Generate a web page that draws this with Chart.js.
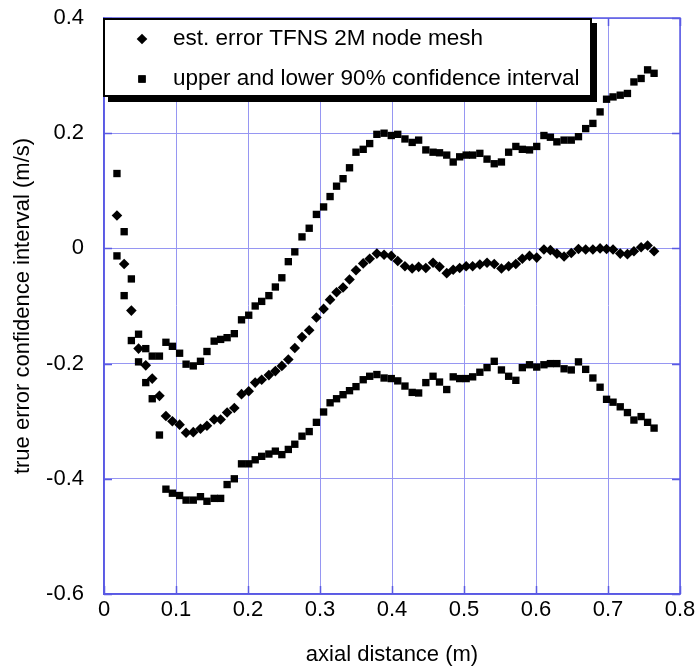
<!DOCTYPE html>
<html>
<head>
<meta charset="utf-8">
<script src="https://cdn.jsdelivr.net/npm/chart.js@4/dist/chart.umd.min.js"></script>
<style>
  html, body { margin: 0; padding: 0; background: #ffffff; }
  #wrap { width: 697px; height: 666px; }
</style>
</head>
<body>
<div id="wrap"><canvas id="c" width="697" height="666"></canvas></div>
<script>
// Axial stations (m)
const axialDistance = [
  0.018, 0.028, 0.038, 0.048, 0.058, 0.067, 0.077, 0.086, 0.095, 0.105,
  0.114, 0.124, 0.134, 0.143, 0.153, 0.162, 0.171, 0.181, 0.191, 0.201,
  0.210, 0.219, 0.229, 0.238, 0.247, 0.256, 0.265, 0.275, 0.285, 0.295,
  0.305, 0.314, 0.323, 0.332, 0.341, 0.350, 0.360, 0.369, 0.379, 0.389,
  0.399, 0.408, 0.418, 0.428, 0.437, 0.447, 0.457, 0.466, 0.476, 0.485,
  0.494, 0.503, 0.512, 0.522, 0.532, 0.542, 0.552, 0.562, 0.572, 0.581,
  0.591, 0.601, 0.611, 0.620, 0.629, 0.639, 0.649, 0.659, 0.669, 0.679,
  0.689, 0.698, 0.707, 0.717, 0.727, 0.736, 0.746, 0.755, 0.764
];

// Estimated true error (m/s)
const estError = [
  0.057, -0.027, -0.108, -0.174, -0.203, -0.226, -0.256, -0.291, -0.300, -0.306,
  -0.320, -0.319, -0.313, -0.308, -0.297, -0.297, -0.285, -0.277, -0.253, -0.248,
  -0.233, -0.228, -0.220, -0.213, -0.204, -0.193, -0.173, -0.154, -0.142, -0.120,
  -0.105, -0.089, -0.076, -0.068, -0.054, -0.038, -0.026, -0.018, -0.009, -0.011,
  -0.013, -0.022, -0.031, -0.035, -0.032, -0.034, -0.025, -0.032, -0.043, -0.037,
  -0.034, -0.031, -0.031, -0.028, -0.025, -0.027, -0.035, -0.031, -0.027, -0.018,
  -0.013, -0.016, -0.002, -0.003, -0.009, -0.014, -0.008, -0.001, -0.002, -0.002,
  0.000, -0.001, -0.002, -0.009, -0.010, -0.005, 0.002, 0.005, -0.005
];

// Upper 90% confidence bound (m/s)
const upperBound = [
  0.130, 0.029, -0.053, -0.149, -0.174, -0.187, -0.187, -0.163, -0.170, -0.182,
  -0.201, -0.204, -0.196, -0.179, -0.161, -0.158, -0.155, -0.148, -0.124, -0.116,
  -0.100, -0.092, -0.082, -0.067, -0.051, -0.023, -0.006, 0.020, 0.035, 0.059,
  0.072, 0.090, 0.108, 0.121, 0.140, 0.167, 0.172, 0.182, 0.198, 0.200,
  0.196, 0.198, 0.190, 0.184, 0.188, 0.171, 0.167, 0.166, 0.162, 0.150,
  0.159, 0.162, 0.162, 0.165, 0.155, 0.147, 0.150, 0.167, 0.177, 0.172,
  0.171, 0.177, 0.196, 0.193, 0.185, 0.188, 0.188, 0.194, 0.208, 0.217,
  0.237, 0.259, 0.263, 0.266, 0.269, 0.289, 0.295, 0.310, 0.304
];

// Lower 90% confidence bound (m/s)
const lowerBound = [
  -0.013, -0.082, -0.160, -0.197, -0.233, -0.261, -0.324, -0.418, -0.425, -0.429,
  -0.437, -0.437, -0.431, -0.439, -0.434, -0.434, -0.410, -0.400, -0.374, -0.374,
  -0.367, -0.361, -0.357, -0.352, -0.358, -0.349, -0.340, -0.326, -0.318, -0.302,
  -0.284, -0.268, -0.261, -0.254, -0.247, -0.240, -0.228, -0.222, -0.219, -0.225,
  -0.226, -0.230, -0.239, -0.250, -0.251, -0.233, -0.222, -0.232, -0.245, -0.223,
  -0.226, -0.226, -0.223, -0.215, -0.207, -0.196, -0.211, -0.222, -0.229, -0.207,
  -0.202, -0.206, -0.202, -0.200, -0.200, -0.209, -0.211, -0.197, -0.210, -0.225,
  -0.241, -0.262, -0.267, -0.275, -0.285, -0.298, -0.292, -0.302, -0.312
];

const xTicks = [0, 0.1, 0.2, 0.3, 0.4, 0.5, 0.6, 0.7, 0.8];
const yTicks = [-0.6, -0.4, -0.2, 0, 0.2, 0.4];

const seriesLabels = ['est. error TFNS 2M node mesh', 'upper and lower 90% confidence interval'];

const FONT = '"Liberation Sans", Arial, Helvetica, sans-serif';
const GRID = '#9696f2';
const FRAME = '#5a5ae4';

const toPoints = (xs, ys) => xs.map((x, i) => ({ x: x, y: ys[i] }));

const fmt = v => (Math.abs(v) < 1e-9 ? '0' : v.toFixed(1));

// Frame round the plot plus short inward tick marks on all four sides
const framePlugin = {
  id: 'frame',
  afterDatasetsDraw(chart) {
    const { ctx, chartArea: a, scales } = chart;
    ctx.save();
    ctx.strokeStyle = FRAME;
    ctx.lineWidth = 1.5;
    ctx.strokeRect(a.left, a.top, a.right - a.left, a.bottom - a.top);
    ctx.beginPath();
    const tl = 8;
    xTicks.forEach(v => {
      const px = Math.round(scales.x.getPixelForValue(v)) + 0.5;
      ctx.moveTo(px, a.bottom); ctx.lineTo(px, a.bottom - tl);
      ctx.moveTo(px, a.top); ctx.lineTo(px, a.top + tl);
    });
    yTicks.forEach(v => {
      const py = Math.round(scales.y.getPixelForValue(v)) + 0.5;
      ctx.moveTo(a.left, py); ctx.lineTo(a.left + tl, py);
      ctx.moveTo(a.right, py); ctx.lineTo(a.right - tl, py);
    });
    ctx.stroke();
    ctx.restore();
  }
};

// Boxed legend with a drop shadow, sitting over the top-left of the plot
const boxLegendPlugin = {
  id: 'boxLegend',
  afterDraw(chart) {
    const { ctx, chartArea: a } = chart;
    const x0 = a.left - 1, y0 = a.top, w = 489, h = 79;
    ctx.save();
    ctx.fillStyle = '#000';
    ctx.fillRect(x0 + 5, y0 + 5, w, h);
    ctx.fillStyle = '#fff';
    ctx.fillRect(x0, y0, w, h);
    ctx.strokeStyle = '#000';
    ctx.lineWidth = 2;
    ctx.strokeRect(x0 + 1, y0 + 1, w - 2, h - 2);
    ctx.font = '22.5px ' + FONT;
    ctx.textBaseline = 'middle';
    ctx.textAlign = 'left';
    chart.data.datasets.forEach((ds, i) => {
      const cy = y0 + 21 + i * 40;
      Chart.helpers.drawPoint(ctx, {
        pointStyle: ds.pointStyle,
        radius: ds.pointRadius,
        rotation: 0,
        borderWidth: 0
      }, x0 + 39, cy);
      ctx.fillStyle = '#000';
      ctx.fill();
      ctx.fillText(ds.label, x0 + 70, cy);
    });
    ctx.restore();
  }
};

new Chart(document.getElementById('c'), {
  type: 'scatter',
  data: {
    datasets: [
      {
        label: seriesLabels[0],
        data: toPoints(axialDistance, estError),
        pointStyle: 'rectRot',
        pointRadius: 5.3,
        backgroundColor: '#000',
        borderWidth: 0
      },
      {
        label: seriesLabels[1],
        data: toPoints(axialDistance, upperBound).concat(toPoints(axialDistance, lowerBound)),
        pointStyle: 'rect',
        pointRadius: 5.2,
        backgroundColor: '#000',
        borderWidth: 0
      }
    ]
  },
  options: {
    responsive: false,
    animation: false,
    devicePixelRatio: 1,
    layout: { padding: { top: 18, right: 17, left: 0, bottom: 0 } },
    plugins: {
      legend: { display: false },
      tooltip: { enabled: false }
    },
    scales: {
      x: {
        type: 'linear',
        min: 0,
        max: 0.8,
        afterBuildTicks(scale) { scale.ticks = xTicks.map(v => ({ value: v })); },
        afterFit(scale) { scale.height = 72; scale.paddingLeft = 0; scale.paddingRight = 0; },
        grid: { color: GRID, lineWidth: 1, drawTicks: false },
        border: { color: FRAME, width: 1.5 },
        ticks: {
          color: '#000',
          padding: 3,
          maxRotation: 0,
          font: { family: FONT, size: 22 },
          callback: v => fmt(v)
        },
        title: {
          display: true,
          text: 'axial distance (m)',
          color: '#000',
          font: { family: FONT, size: 22 },
          padding: { top: 0, bottom: -2 }
        }
      },
      y: {
        type: 'linear',
        min: -0.6,
        max: 0.4,
        afterBuildTicks(scale) { scale.ticks = yTicks.map(v => ({ value: v })); },
        afterFit(scale) { scale.width = 104; scale.paddingTop = 0; scale.paddingBottom = 0; },
        grid: { color: GRID, lineWidth: 1, drawTicks: false },
        border: { color: FRAME, width: 1.5 },
        ticks: {
          color: '#000',
          padding: 20,
          font: { family: FONT, size: 22 },
          callback: v => fmt(v)
        },
        title: {
          display: true,
          text: 'true error confidence interval (m/s)',
          color: '#000',
          font: { family: FONT, size: 22 },
          padding: { top: 10, bottom: 0 }
        }
      }
    }
  },
  plugins: [framePlugin, boxLegendPlugin]
});
</script>
</body>
</html>
